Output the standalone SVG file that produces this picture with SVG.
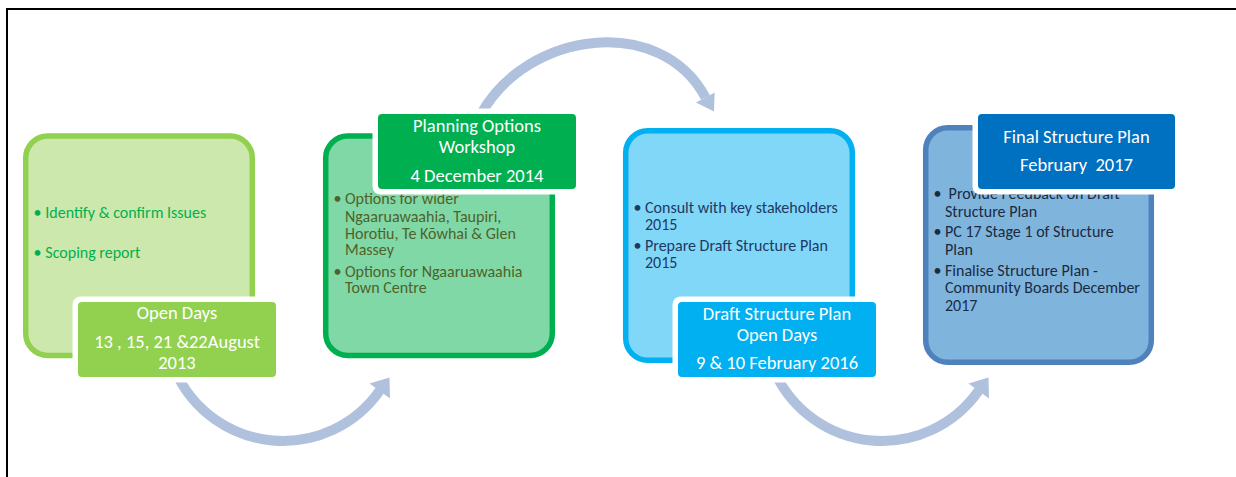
<svg xmlns="http://www.w3.org/2000/svg" width="1236" height="477" viewBox="0 0 1236 477">
<style>
.frame{stroke:#000;stroke-width:2;fill:none}
.arc{fill:none;stroke:#B0C1DE;stroke-width:10}
.head{fill:#B0C1DE}
.halo{fill:#fff}
.box{stroke-width:5.5}
.lbl{font-family:Carlito,Lato,"Liberation Sans",sans-serif;font-size:18.5px;fill:#fff;text-anchor:middle}
.bul{font-family:Carlito,Lato,"Liberation Sans",sans-serif;font-size:16px}
</style>
<rect width="1236" height="477" fill="#fff"/>
<path class="frame" d="M7 477 V9 H1236"/>
<g id="connectors">
  <path class="arc" d="M175.7 372 A118 118 0 0 0 379.7 390.7"/>
  <polygon class="head" points="369.5,383.5 389.5,377.5 390,398.5"/>
  <path class="arc" d="M481 114 C528 30 661 14 705.5 97.5"/>
  <polygon class="head" points="696,102.5 714.7,92.5 714,111.5"/>
  <g transform="translate(599,0)">
    <path class="arc" d="M175.7 372 A118 118 0 0 0 379.7 390.7"/>
    <polygon class="head" points="369.5,383.5 389.5,377.5 390,398.5"/>
  </g>
</g>
<g id="node-1">
  <rect class="box" x="25.7" y="136" width="226.6" height="219.5" rx="22" fill="#CCE8AC" stroke="#92D050"/>
  <g class="bul" fill="#00B050">
    <text x="33.5" y="217.7">•</text><text x="45.3" y="217.7">Identify &amp; confirm Issues</text>
    <text x="33.5" y="258.3">•</text><text x="45.3" y="258.3">Scoping report</text>
  </g>
  <rect class="halo" x="72.5" y="296.5" width="209" height="86" rx="8"/>
  <rect x="78" y="302" width="198" height="75" rx="4" fill="#92D050"/>
  <g class="lbl">
    <text x="177" y="319">Open Days</text>
    <text x="177" y="348">13 , 15, 21 &amp;22August</text>
    <text x="177" y="369">2013</text>
  </g>
</g>
<g id="node-2">
  <rect class="box" x="325.7" y="136" width="226.6" height="219.5" rx="22" fill="#80D8A7" stroke="#00B050"/>
  <g class="bul" fill="#4F6228">
    <text x="333.5" y="204">•</text><text x="345" y="204">Options for wider</text>
    <text x="345" y="221.7">Ngaaruawaahia, Taupiri,</text>
    <text x="345" y="239.3">Horotiu, Te Kōwhai &amp; Glen</text>
    <text x="345" y="255">Massey</text>
    <text x="333.5" y="276.7">•</text><text x="345" y="276.7">Options for Ngaaruawaahia</text>
    <text x="345" y="293.3">Town Centre</text>
  </g>
  <rect class="halo" x="372.5" y="108.5" width="209" height="86" rx="8"/>
  <rect x="378" y="114" width="198" height="75" rx="4" fill="#00B050"/>
  <g class="lbl">
    <text x="477" y="131.7">Planning Options</text>
    <text x="477" y="152.7">Workshop</text>
    <text x="477" y="181.7">4 December 2014</text>
  </g>
</g>
<g id="node-3">
  <rect class="box" x="625.7" y="130.8" width="226.6" height="229.5" rx="22" fill="#80D7F7" stroke="#00B0F0"/>
  <g class="bul" fill="#1F3864">
    <text x="633.5" y="212.7">•</text><text x="645" y="212.7">Consult with key stakeholders</text>
    <text x="645" y="230">2015</text>
    <text x="633.5" y="250.7">•</text><text x="645" y="250.7">Prepare Draft Structure Plan</text>
    <text x="645" y="268">2015</text>
  </g>
  <rect class="halo" x="672.5" y="296.5" width="209" height="86" rx="8"/>
  <rect x="678" y="302" width="198" height="75" rx="4" fill="#00B0F0"/>
  <g class="lbl">
    <text x="777" y="320">Draft Structure Plan</text>
    <text x="777" y="340.7">Open Days</text>
    <text x="777" y="369.3">9 &amp; 10 February 2016</text>
  </g>
</g>
<g id="node-4">
  <rect class="box" x="925.7" y="127.8" width="225.6" height="234.5" rx="22" fill="#7FB4DD" stroke="#4F81BD"/>
  <g class="bul" fill="#1B2A40">
    <text x="933.5" y="199">•</text><text x="945" y="199" xml:space="preserve"> Provide Feedback on Draft</text>
    <text x="945" y="217.3">Structure Plan</text>
    <text x="933.5" y="237.3">•</text><text x="945" y="237.3">PC 17 Stage 1 of Structure</text>
    <text x="945" y="255">Plan</text>
    <text x="933.5" y="276">•</text><text x="945" y="276">Finalise Structure Plan -</text>
    <text x="945" y="293.3">Community Boards December</text>
    <text x="945" y="310.7">2017</text>
  </g>
  <rect class="halo" x="972.5" y="108.5" width="208" height="86" rx="8"/>
  <rect x="978" y="114" width="197" height="75" rx="4" fill="#0070C0"/>
  <g class="lbl">
    <text x="1076.5" y="142.7">Final Structure Plan</text>
    <text x="1076.5" y="170.7" xml:space="preserve">February  2017</text>
  </g>
</g>
</svg>
